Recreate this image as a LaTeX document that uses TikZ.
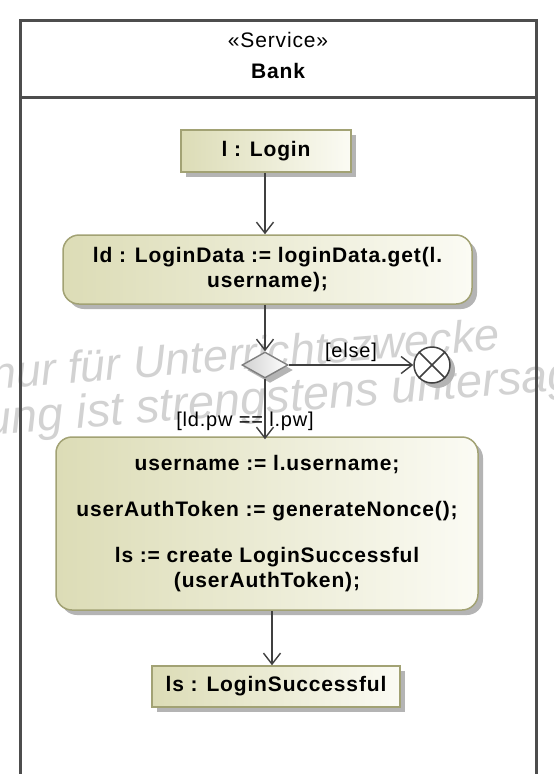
\documentclass[tikz,border=0pt]{standalone}
\usepackage{fontspec}
\setmainfont{Liberation Sans}[LetterSpace=4]
\newfontfamily\wmfont{Liberation Sans}
\usetikzlibrary{arrows.meta,shapes.geometric,shadows}
\definecolor{edgec}{HTML}{404040}
\definecolor{boxl}{HTML}{DCDCB6}
\definecolor{boxr}{HTML}{FBFBF4}
\definecolor{boxd}{HTML}{A2A274}
\definecolor{shad}{HTML}{B4B4B4}
\definecolor{framec}{HTML}{4D4D4D}
\definecolor{wmc}{HTML}{D2D2D2}
\begin{document}
\begin{tikzpicture}[x=1pt,y=-1pt,
  font=\fontsize{21}{25}\selectfont,
  shad/.style={drop shadow={shadow xshift=5pt,shadow yshift=-5pt,fill=shad,opacity=1}},
  objbox/.style={draw=boxd, line width=1.5pt, left color=boxl, right color=boxr, shad,
    inner sep=0pt, font=\fontsize{21}{25}\selectfont\bfseries},
  actbox/.style={objbox, rounded corners=16pt, align=center},
  flow/.style={draw=edgec, line width=1.4pt, -{Straight Barb[length=11pt,width=17pt,line width=1.4pt]}},
  lbl/.style={font=\fontsize{20}{23}\selectfont, inner sep=1pt},
  wm/.style={anchor=base west, rotate=4.5, text=wmc, inner sep=0pt}
]
\useasboundingbox (0,0) rectangle (554,774);
\fill[white] (0,0) rectangle (554,774);
% watermark
\begin{scope}
\clip (0,0) rectangle (554,774);
\node[wm, font=\wmfont\fontsize{45}{45}\selectfont\itshape] (wm1) at (-8,389.6) {nur für Unterrichtszwecke};
\node[wm, font=\wmfont\fontsize{47}{47}\selectfont\itshape] (wm2) at (-110,443) {Nutzung ist strengstens untersagt};
\end{scope}
% frame
\draw[framec, line width=3pt] (20,776) -- (20,20) -- (536,20) -- (536,776);
\draw[framec, line width=3pt] (20,97) -- (536,97);
\node (st) at (278,40) {«Service»};
\node[font=\fontsize{21}{25}\selectfont\bfseries] (bank) at (278,71) {Bank};
% nodes
\node[objbox, minimum width=170pt, minimum height=42pt] (login) at (266,151) {l : Login};
\node[actbox, minimum width=409pt, minimum height=69pt] (ld) at (267.5,269.5) {ld : LoginData := loginData.get(l.\\username);};
\node[diamond, draw=black!50, line width=1.4pt, left color=black!18, right color=white, shad,
  minimum width=46pt, minimum height=26pt, inner sep=0pt] (dec) at (265,365) {};
\node[circle, draw=edgec, line width=1.5pt, fill=white, shad, minimum size=36pt, inner sep=0pt] (final) at (432,365) {};
\draw[edgec, line width=1.5pt] (final.north west) -- (final.south east) (final.north east) -- (final.south west);
\node[actbox, minimum width=422pt, minimum height=173pt] (act) at (267,523.5)
  {username := l.username;\\[21pt]userAuthToken := generateNonce();\\[21pt]ls := create LoginSuccessful\\(userAuthToken);};
\node[objbox, minimum width=248pt, minimum height=41pt] (ls) at (276,686.5) {ls : LoginSuccessful};
% flows
\draw[flow] (login.south -| dec.north) -- (ld.north -| dec.north);
\draw[flow] (ld.south -| dec.north) -- (dec.north);
\draw[flow] (dec.east) -- node[lbl, above=2pt] (elsel) {[else]} (final.west);
\draw[flow] (dec.south) -- node[lbl, pos=0.7, xshift=-20pt] (guard) {[ld.pw == l.pw]} ([yshift=-3pt]act.north -| dec.south);
\draw[flow] ([xshift=-4pt]ls.north |- act.south) -- ([xshift=-4pt]ls.north);
\end{tikzpicture}
\end{document}
